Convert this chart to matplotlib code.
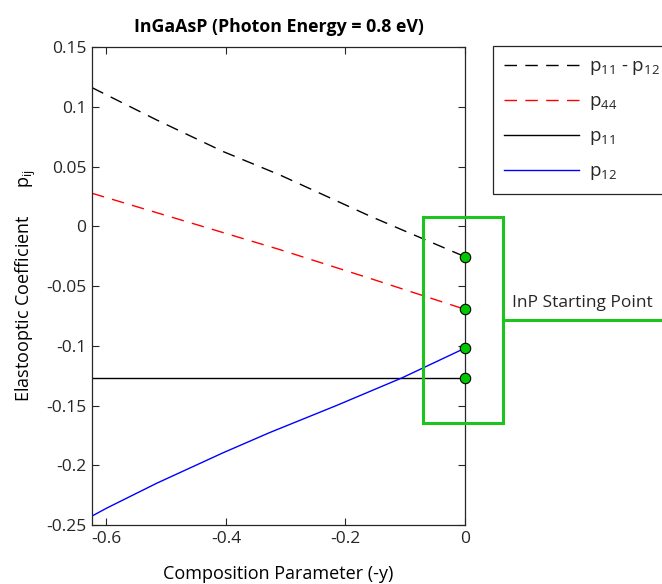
import matplotlib
matplotlib.use("Agg")
import matplotlib.pyplot as plt
from matplotlib.patches import Rectangle
from matplotlib.lines import Line2D

# ── Data ─────────────────────────────────────────────────────────────────────
x_p12   = [-0.624, -0.600, -0.516, -0.4045, -0.327, -0.215, -0.106, 0.0]
p12     = [-0.2425, -0.236, -0.2151, -0.1895, -0.1727, -0.150, -0.127, -0.102]

x_diff  = [-0.624, -0.516, -0.4045, -0.310, -0.159, 0.0]
p11_p12 = [0.116, 0.089, 0.0625, 0.0430, 0.0085, -0.0255]

x_p44   = [-0.624, -0.310, -0.159, 0.0]
p44     = [0.0276, -0.0195, -0.0436, -0.0695]

x_p11   = [-0.624, 0.0]
p11     = [-0.127, -0.127]

inp_x   = [0.0, 0.0, 0.0, 0.0]
inp_y   = [-0.0255, -0.0695, -0.102, -0.127]

xticks = [-0.6, -0.4, -0.2, 0]
yticks = [0.15, 0.1, 0.05, 0, -0.05, -0.1, -0.15, -0.2, -0.25]

# ── Style ────────────────────────────────────────────────────────────────────
plt.rcParams.update({
    "font.family": ["Open Sans", "DejaVu Sans"],
    "mathtext.fontset": "custom",
    "mathtext.rm": "Open Sans",
    "mathtext.it": "Open Sans",
    "axes.edgecolor": "#262626",
    "xtick.color": "#262626",
    "ytick.color": "#262626",
    "text.color": "#262626",
})
GREEN = "#1ec41e"

fig = plt.figure(figsize=(6.62, 5.84), dpi=100)
ax = fig.add_axes([0.139, 0.101, 0.5634, 0.8185])

l1, = ax.plot(x_diff, p11_p12, color="black", lw=1.0, dashes=(9, 6))
l2, = ax.plot(x_p44, p44, color="red", lw=1.0, dashes=(9, 6))
l3, = ax.plot(x_p11, p11, color="black", lw=1.0)
l4, = ax.plot(x_p12, p12, color="blue", lw=1.0)
ax.plot(inp_x, inp_y, "o", color="#00c800", mec="black", mew=0.8, ms=7.5,
        clip_on=False, zorder=5)

ax.set_xlim(-0.624, 0)
ax.set_ylim(-0.25, 0.15)
ax.set_xticks(xticks)
ax.set_xticklabels(["-0.6", "-0.4", "-0.2", "0"])
ax.set_yticks(yticks)
ax.set_yticklabels(["0.15", "0.1", "0.05", "0", "-0.05", "-0.1", "-0.15", "-0.2", "-0.25"])
ax.tick_params(direction="in", length=5, width=0.8, labelsize=12.5,
               top=True, right=True, pad=4)
for s in ax.spines.values():
    s.set_linewidth(0.9)

ax.set_title("InGaAsP (Photon Energy = 0.8 eV)", fontsize=12.8,
             fontweight="bold", pad=11, color="black")
ax.set_xlabel("Composition Parameter (-y)", fontsize=13, labelpad=13)
ax.set_ylabel("Elastooptic Coefficient      $\\mathregular{p_{ij}}$",
              fontsize=13, labelpad=6)

# ── InP starting point callout ───────────────────────────────────────────────
ax.add_patch(Rectangle((-0.070, -0.1646), 0.1336, 0.1723, fill=False,
                       edgecolor=GREEN, lw=2.2, clip_on=False, zorder=4))
ax.add_line(Line2D([0.0636, 0.33], [-0.0785, -0.0785], color=GREEN, lw=2.2,
                   clip_on=False, zorder=4))
ax.text(0.0787, -0.0642, "InP Starting Point", fontsize=12.5,
        ha="left", va="center", clip_on=False)

# ── Legend ───────────────────────────────────────────────────────────────────
labels = [
    "$\\mathregular{p_{11}}$ - $\\mathregular{p_{12}}$",
    "$\\mathregular{p_{44}}$",
    "$\\mathregular{p_{11}}$",
    "$\\mathregular{p_{12}}$",
]
leg = ax.legend([l1, l2, l3, l4], labels, loc="upper left",
                bbox_to_anchor=(0.7447, 0.921), bbox_transform=fig.transFigure,
                borderaxespad=0, fontsize=13.5, handlelength=4.0,
                labelspacing=0.8, handletextpad=0.5, borderpad=0.6,
                fancybox=False, framealpha=1)
leg.get_frame().set_edgecolor("#262626")
leg.get_frame().set_linewidth(0.9)

fig.savefig("out.png", dpi=100)
